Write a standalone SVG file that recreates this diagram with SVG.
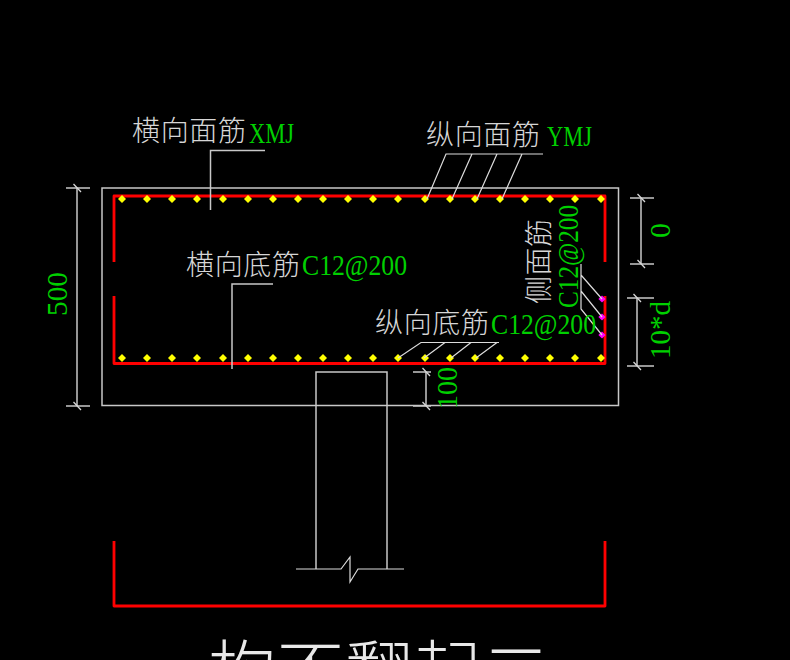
<svg xmlns="http://www.w3.org/2000/svg" width="790" height="660" viewBox="0 0 790 660">
<style>
.bg{fill:#000}
.w{fill:none;stroke:#c8c8c8;stroke-width:1.5}
.t{fill:none;stroke:#dcdcdc;stroke-width:1.2}
.r{fill:none;stroke:#f00;stroke-width:2.8;stroke-linejoin:round}
.cn{fill:#d6d6d6;font-family:"Noto Sans CJK SC","Noto Sans",sans-serif;font-size:28px;font-weight:300}
.en{fill:#00d000;font-family:"Liberation Serif",serif;font-size:29px}
</style>
<defs>
<path id="y" d="M0-4L4 0L0 4L-4 0Z" fill="#ff0"/>
<path id="m" d="M0-3.600L3.600 0L0 3.600L-3.600 0Z" fill="#f0f"/>
<path id="tick" d="M-3.500-4L4 4" fill="none" stroke="#d8d8d8" stroke-width="1.200"/>
</defs>
<rect class="bg" width="790" height="660"/>
<g id="slab"><rect class="w" x="102" y="188" width="516.500" height="217.500"/></g>
<g id="column"><path class="w" d="M316 569V372H387V569"/><path class="t" d="M296 569H341L350 557V582L358 569H404"/></g>
<g id="rebar">
<path class="r" d="M114 262V196H605V262"/>
<path class="r" d="M114 296V363.500H605V296"/>
<path class="r" d="M114 541V606H605V541"/>
</g>
<g id="top-dots">
<use href="#y" x="122" y="199"/><use href="#y" x="147" y="199"/><use href="#y" x="172" y="199"/><use href="#y" x="197" y="199"/><use href="#y" x="223" y="199"/><use href="#y" x="248" y="199"/><use href="#y" x="273" y="199"/><use href="#y" x="298" y="199"/><use href="#y" x="323" y="199"/><use href="#y" x="348" y="199"/><use href="#y" x="373" y="199"/><use href="#y" x="398" y="199"/><use href="#y" x="425" y="199"/><use href="#y" x="450" y="199"/><use href="#y" x="475" y="199"/><use href="#y" x="500" y="199"/><use href="#y" x="525" y="199"/><use href="#y" x="550" y="199"/><use href="#y" x="575" y="199"/><use href="#y" x="601" y="199"/>
</g>
<g id="bottom-dots">
<use href="#y" x="122" y="358"/><use href="#y" x="147" y="358"/><use href="#y" x="172" y="358"/><use href="#y" x="197" y="358"/><use href="#y" x="223" y="358"/><use href="#y" x="248" y="358"/><use href="#y" x="273" y="358"/><use href="#y" x="298" y="358"/><use href="#y" x="323" y="358"/><use href="#y" x="348" y="358"/><use href="#y" x="373" y="358"/><use href="#y" x="398" y="358"/><use href="#y" x="425" y="358"/><use href="#y" x="450" y="358"/><use href="#y" x="475" y="358"/><use href="#y" x="500" y="358"/><use href="#y" x="525" y="358"/><use href="#y" x="550" y="358"/><use href="#y" x="575" y="358"/><use href="#y" x="601" y="358"/>
</g>
<g id="side-dots"><use href="#m" x="602" y="299"/><use href="#m" x="602" y="317"/><use href="#m" x="602" y="335"/></g>
<g id="connectors">
<path class="w" d="M265 150.500H210.500V210"/>
<path class="w" d="M273 284H232V369"/>
<path class="t" d="M543 154H446L427 199M472 154L452 199M497 154L477 199M522 154L502 199"/>
<path class="t" d="M499 342.500H421L398 358M445 342.500L424 358M471 342.500L451 358M497 342.500L476 358"/>
<path class="t" d="M581 264V309L602 335M581 275L602 299M581 291L602 317"/>
</g>
<g id="dim-500"><path class="w" d="M66 188H90M66 406H90M77 188V406"/><use href="#tick" x="77" y="188"/><use href="#tick" x="77" y="406"/><text class="en" transform="translate(67 316) rotate(-90)" textLength="44" lengthAdjust="spacingAndGlyphs">500</text></g>
<g id="dim-0"><path class="w" d="M630 198H654M630 264H654M641 198V264"/><use href="#tick" x="641" y="198"/><use href="#tick" x="641" y="264"/><text class="en" transform="translate(670 238) rotate(-90)" textLength="15" lengthAdjust="spacingAndGlyphs">0</text></g>
<g id="dim-10d"><path class="w" d="M627 298H654M627 366H654M637 298V366"/><use href="#tick" x="637" y="298"/><use href="#tick" x="637" y="366"/><text class="en" transform="translate(670 359) rotate(-90)" textLength="58" lengthAdjust="spacingAndGlyphs">10*d</text></g>
<g id="dim-100"><path class="w" d="M413 372H431M413 406H431M426 372V406"/><use href="#tick" x="426" y="372"/><use href="#tick" x="426" y="406"/><text class="en" transform="translate(456.500 409) rotate(-90)" textLength="42" lengthAdjust="spacingAndGlyphs">100</text></g>
<g id="labels">
<text class="cn" x="132" y="141" textLength="114">横向面筋</text><text class="en" x="249" y="143" textLength="45" lengthAdjust="spacingAndGlyphs">XMJ</text>
<text class="cn" x="426" y="145" textLength="114">纵向面筋</text><text class="en" x="547" y="146" textLength="45" lengthAdjust="spacingAndGlyphs">YMJ</text>
<text class="cn" x="186" y="275" textLength="114">横向底筋</text><text class="en" x="302" y="275" textLength="105" lengthAdjust="spacingAndGlyphs">C12@200</text>
<text class="cn" x="375" y="333" textLength="114">纵向底筋</text><text class="en" x="491" y="334" textLength="105" lengthAdjust="spacingAndGlyphs">C12@200</text>
<text class="cn" transform="translate(549 304) rotate(-90)" textLength="85">侧面筋</text>
<text class="en" transform="translate(578 308) rotate(-90)" textLength="103" lengthAdjust="spacingAndGlyphs">C12@200</text>
<text style="fill:#e8e8e8;font-family:'Noto Sans CJK SC',sans-serif;font-size:68px;font-weight:300" x="208" y="697" textLength="342">构不翻起二</text>
</g>
</svg>
